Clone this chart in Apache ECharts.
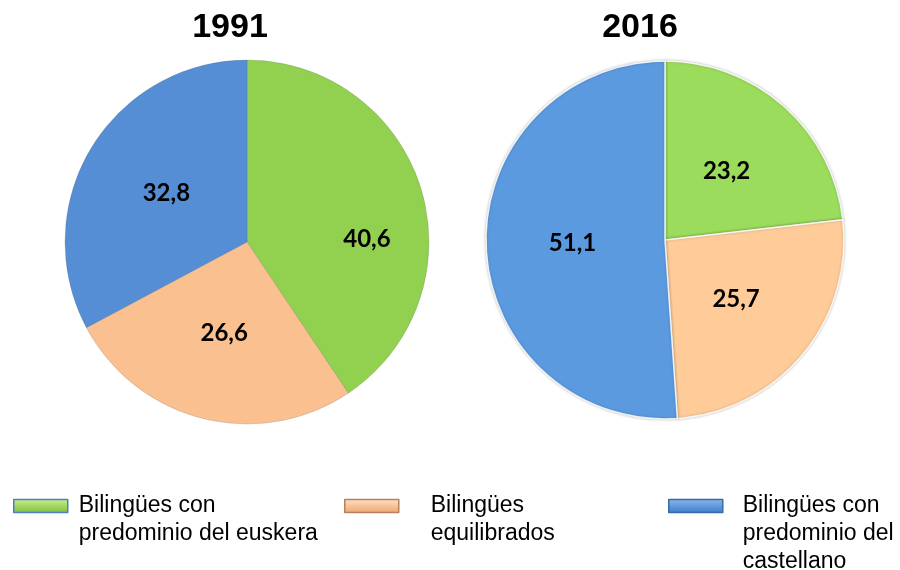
<!DOCTYPE html>
<html>
<head>
<meta charset="utf-8">
<script src="https://cdn.jsdelivr.net/npm/echarts@6/dist/echarts.min.js"></script>
<style>
  html, body { margin: 0; padding: 0; background: #fff; }
  #chart { width: 900px; height: 570px; }
</style>
</head>
<body>
<div id="chart"></div>
<script>
// categorías y valores (%)
const categories = [
  'Bilingües con predominio del euskera',
  'Bilingües equilibrados',
  'Bilingües con predominio del castellano'
]
const legendLabels = [
  'Bilingües con\npredominio del euskera',
  'Bilingües\nequilibrados',
  'Bilingües con\npredominio del\ncastellano'
]
const years = ['1991', '2016']
const values1991 = [40.6, 26.6, 32.8]
const values2016 = [23.2, 25.7, 51.1]

const colors1991 = ['#92D050', '#FAC090', '#558ED5']
const colors2016 = ['#9CDC5C', '#FFCC99', '#5C9AE0']

const iconStyles = [
  { top: '#C9F08E', bottom: '#7DBE3C', border: '#4F7FBF' },
  { top: '#FFE2C6', bottom: '#EDA46A', border: '#B88060' },
  { top: '#8CB9EE', bottom: '#3C7BCB', border: '#3A6AA8' }
]

function fmt(v) {
  return v.toFixed(1).replace('.', ',')
}

function pieData(values, colors) {
  return values.map((v, i) => ({
    name: categories[i],
    value: v,
    itemStyle: { color: colors[i] }
  }))
}

function legendFor(i, left, top, gap) {
  const lines = legendLabels[i].split('\n').length
  // leading blank lines keep the icon level with the first text line
  const pad = '\n'.repeat(lines - 1)
  return {
    left: left,
    top: top,
    padding: 0,
    orient: 'horizontal',
    selectedMode: false,
    icon: 'rect',
    itemWidth: 54,
    itemHeight: 13,
    data: [{
      name: categories[i],
      itemStyle: {
        color: {
          type: 'linear', x: 0, y: 0, x2: 0, y2: 1,
          colorStops: [
            { offset: 0, color: iconStyles[i].top },
            { offset: 1, color: iconStyles[i].bottom }
          ]
        },
        borderColor: iconStyles[i].border,
        borderWidth: 1.5
      }
    }],
    formatter: () => pad + legendLabels[i],
    textStyle: {
      fontFamily: 'Liberation Sans, Arial',
      fontSize: 23,
      lineHeight: 28,
      color: '#000',
      padding: [0, 0, 0, gap]
    }
  }
}

const labelStyle = {
  show: true,
  position: 'inside',
  formatter: p => fmt(p.value),
  fontFamily: 'Lato, Open Sans, sans-serif',
  fontWeight: 'bold',
  fontSize: 24,
  color: '#000'
}

const chart = echarts.init(document.getElementById('chart'))
chart.setOption({
  backgroundColor: '#fff',
  animation: false,
  title: [
    {
      text: years[0], left: 225, top: 6, textAlign: 'center',
      textStyle: { fontFamily: 'Liberation Sans, Arial', fontWeight: 'bold', fontSize: 34, color: '#000' }
    },
    {
      text: years[1], left: 635, top: 6, textAlign: 'center',
      textStyle: { fontFamily: 'Liberation Sans, Arial', fontWeight: 'bold', fontSize: 34, color: '#000' }
    }
  ],
  legend: [
    legendFor(0, 13, 464, 6),
    legendFor(1, 344, 464, 27),
    legendFor(2, 668, 436, 15)
  ],
  series: [
    {
      name: years[0],
      type: 'pie',
      center: [247, 242],
      radius: [0, 182],
      startAngle: 90,
      clockwise: true,
      silent: true,
      data: pieData(values1991, colors1991),
      label: labelStyle,
      labelLine: { show: false },
      labelLayout: p => (p.dataIndex === 0 ? { dx: 30, dy: 25 } : {}),
      itemStyle: {
        borderColor: 'rgba(90,90,90,0.35)',
        borderWidth: 0.6
      }
    },
    {
      name: years[1],
      type: 'pie',
      center: [665, 240],
      radius: [0, 179],
      startAngle: 90,
      clockwise: true,
      silent: true,
      data: pieData(values2016, colors2016),
      label: labelStyle,
      labelLine: { show: false },
      itemStyle: {
        borderColor: 'rgba(255,255,255,0.85)',
        borderWidth: 1.5,
        shadowColor: 'rgba(0,0,0,0.25)',
        shadowBlur: 3
      }
    }
  ]
})
</script>
</body>
</html>
